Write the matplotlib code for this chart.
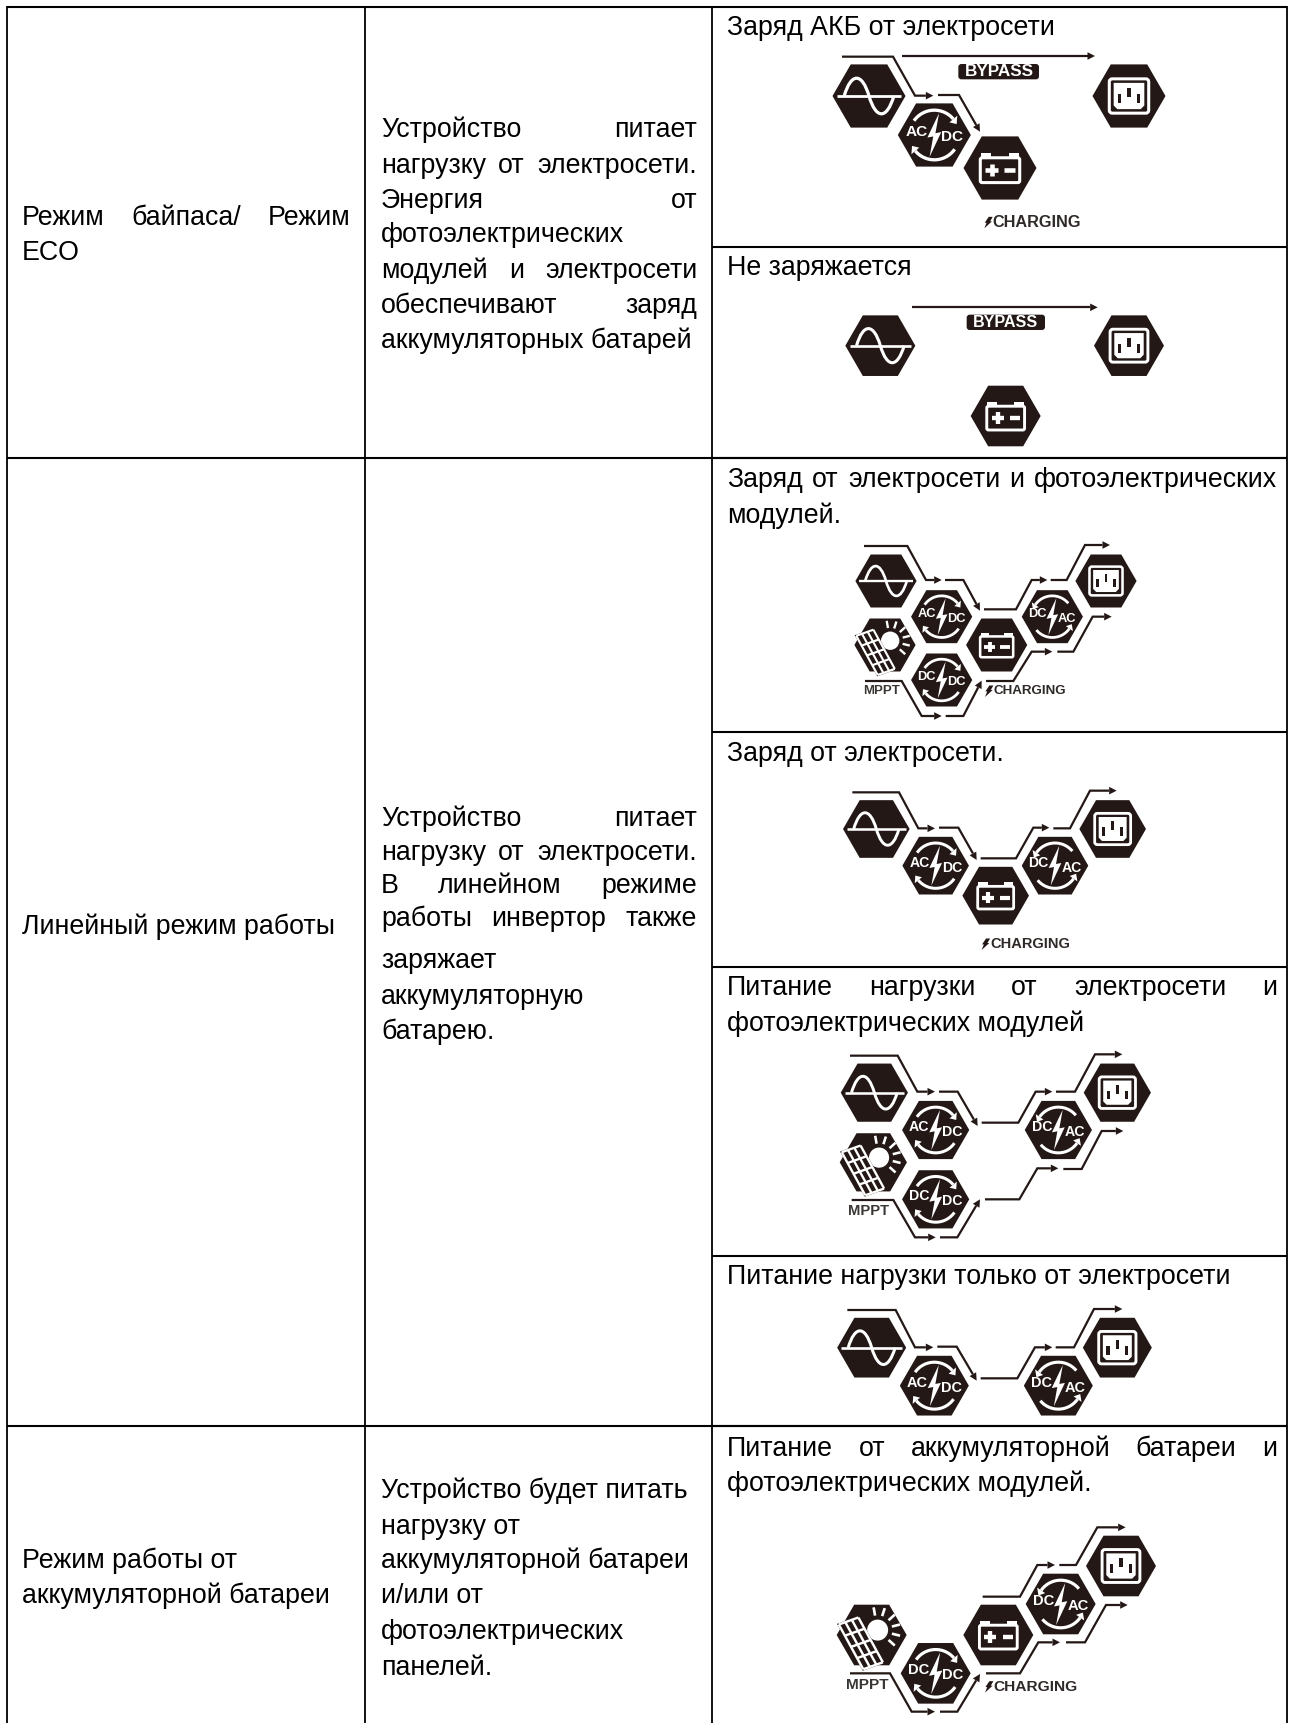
#!/usr/bin/python3

import numpy as np
import matplotlib
matplotlib.use('Agg')
import matplotlib.pyplot as plt
from matplotlib.patches import Polygon, FancyBboxPatch, PathPatch, Circle
from matplotlib.path import Path

# table text
mode_labels = [
    ['Режим байпаса/ Режим', 'ECO'],
    ['Линейный режим работы'],
    ['Режим работы от', 'аккумуляторной батареи'],
]
mode_justify = [[True, False], [False], [False, False]]
descriptions = [
    ['Устройство питает', 'нагрузку от электросети.', 'Энергия от', 'фотоэлектрических',
     'модулей и электросети', 'обеспечивают заряд', 'аккумуляторных батарей'],
    ['Устройство питает', 'нагрузку от электросети.', 'В линейном режиме',
     'работы инвертор также', 'заряжает', 'аккумуляторную', 'батарею.'],
    ['Устройство будет питать', 'нагрузку от', 'аккумуляторной батареи', 'и/или от',
     'фотоэлектрических', 'панелей.'],
]
desc_justify = [
    [True, True, True, False, True, True, False],
    [True, True, True, True, False, False, False],
    [False, False, False, False, False, False],
]
captions = [
    ['Заряд АКБ от электросети'],
    ['Не заряжается'],
    ['Заряд от электросети и фотоэлектрических', 'модулей.'],
    ['Заряд от электросети.'],
    ['Питание нагрузки от электросети и', 'фотоэлектрических модулей'],
    ['Питание нагрузки только от электросети'],
    ['Питание от аккумуляторной батареи и', 'фотоэлектрических модулей.'],
]
caption_justify = [[False], [False], [True, False], [False], [True, False], [False], [True, False]]

# layout, in reference pixels
W, H = 1292, 1723
col_x = [7, 365, 712, 1287]
row_y = [7, 458, 1426]
sub_y = [246.5, 458, 732, 967, 1256, 1426]
table_top = 7
font_px = 26.8
mode_y = [[215, 250], [924], [1558, 1593]]
desc_y = [[127, 163, 198, 232, 268, 303, 338],
          [816, 850, 883, 916, 958, 994, 1029],
          [1488, 1524, 1558, 1593, 1629, 1665]]
caption_y = [[25], [265], [477, 513], [751], [985, 1021], [1274], [1446, 1481]]

INK = '#231815'
plt.rcParams['font.family'] = ['Liberation Sans', 'DejaVu Sans']

fig = plt.figure(figsize=(W / 100, H / 100), dpi=100)
ax = fig.add_axes([0, 0, 1, 1])
ax.set_xlim(0, W)
ax.set_ylim(H, 0)
ax.axis('off')
renderer = fig.canvas.get_renderer()


def text_width(s, size, **kw):
    t = ax.text(0, 0, s, fontsize=size, **kw)
    wd = t.get_window_extent(renderer).width
    t.remove()
    return wd


def put_line(s, x0, x1, y, justify):
    size = font_px * 0.72
    if not justify:
        ax.text(x0, y, s, fontsize=size, va='center_baseline', ha='left', color='black')
        return
    words = s.split()
    widths = [text_width(w, size) for w in words]
    gap = (x1 - x0 - sum(widths)) / (len(words) - 1)
    x = x0
    for w, wd in zip(words, widths):
        ax.text(x, y, w, fontsize=size, va='center_baseline', ha='left', color='black')
        x += wd + gap


def fit_text(s, x0, x1, y, color=INK):
    # bold label squeezed to the width it has in the picture
    wd = text_width(s, 10, fontweight='bold')
    ax.text(x0, y, s, fontsize=10 * (x1 - x0) / wd, fontweight='bold', color=color,
            ha='left', va='center', zorder=6)


def hexagon(cx, cy, w):
    h = w * 0.866
    pts = [(cx - w, cy), (cx - w / 2, cy - h), (cx + w / 2, cy - h),
           (cx + w, cy), (cx + w / 2, cy + h), (cx - w / 2, cy + h)]
    ax.add_patch(Polygon(pts, closed=True, fc=INK, ec='none', zorder=3))


def white_line(xs, ys, lw):
    ax.plot(xs, ys, color='white', lw=lw, zorder=4, solid_capstyle='butt')


def icon_sine(cx, cy, w):
    lw = w * 0.055
    white_line([cx - 0.88 * w, cx + 0.88 * w], [cy, cy], lw)
    a, amp = 0.68 * w, 0.5 * w
    verts = [(cx - a, cy),
             (cx - a * 0.72, cy - amp * 1.3), (cx - a * 0.28, cy - amp * 1.3), (cx, cy),
             (cx + a * 0.28, cy + amp * 1.3), (cx + a * 0.72, cy + amp * 1.3), (cx + a, cy)]
    codes = [Path.MOVETO] + [Path.CURVE4] * 6
    ax.add_patch(PathPatch(Path(verts, codes), fc='none', ec='white', lw=lw * 1.15, zorder=4))


def icon_load(cx, cy, w):
    ax.add_patch(FancyBboxPatch((cx - 0.54 * w, cy - 0.47 * w), 1.08 * w, 0.94 * w,
                                boxstyle=f'round,pad=0,rounding_size={0.08 * w}',
                                fc=INK, ec='white', lw=w * 0.06, zorder=4))
    a, b, c = 0.42 * w, 0.36 * w, 0.1 * w
    socket = [(cx - a, cy - b), (cx + a, cy - b), (cx + a, cy + b - c),
              (cx + a - c, cy + b), (cx - a + c, cy + b), (cx - a, cy + b - c)]
    ax.add_patch(Polygon(socket, closed=True, fc='white', ec='none', zorder=4))
    for dx, dy in [(-0.27, 0.07), (0, -0.1), (0.27, 0.07)]:
        ax.add_patch(Polygon([(cx + (dx - 0.045) * w, cy + (dy - 0.13) * w),
                              (cx + (dx + 0.045) * w, cy + (dy - 0.13) * w),
                              (cx + (dx + 0.045) * w, cy + (dy + 0.13) * w),
                              (cx + (dx - 0.045) * w, cy + (dy + 0.13) * w)],
                             closed=True, fc=INK, ec='none', zorder=5))


def icon_battery(cx, cy, w):
    cy2 = cy + 0.06 * w
    for dx in (-0.38, 0.38):
        ax.add_patch(Polygon([(cx + (dx - 0.14) * w, cy2 - 0.46 * w), (cx + (dx + 0.14) * w, cy2 - 0.46 * w),
                              (cx + (dx + 0.14) * w, cy2 - 0.3 * w), (cx + (dx - 0.14) * w, cy2 - 0.3 * w)],
                             closed=True, fc='white', ec='none', zorder=4))
    ax.add_patch(FancyBboxPatch((cx - 0.54 * w, cy2 - 0.34 * w), 1.08 * w, 0.68 * w,
                                boxstyle=f'round,pad=0,rounding_size={0.05 * w}',
                                fc=INK, ec='white', lw=w * 0.06, zorder=4))
    lw = w * 0.09
    white_line([cx - 0.4 * w, cx - 0.06 * w], [cy2, cy2], lw)
    white_line([cx - 0.23 * w, cx - 0.23 * w], [cy2 - 0.17 * w, cy2 + 0.17 * w], lw)
    white_line([cx + 0.12 * w, cx + 0.42 * w], [cy2, cy2], lw)


def icon_converter(cx, cy, w, left, right, top_right):
    bolt = [(0.13, -0.6), (-0.19, 0.07), (-0.03, 0.04), (-0.13, 0.6), (0.19, -0.08), (0.03, -0.05)]
    ax.add_patch(Polygon([(cx + x * w, cy + y * w) for x, y in bolt], closed=True,
                         fc='white', ec='none', zorder=5))
    px = 0.42 * w * 0.72
    ax.text(cx - 0.49 * w, cy - 0.09 * w, left, fontsize=px, fontweight='bold', color='white',
            ha='center', va='center', zorder=5)
    ax.text(cx + 0.49 * w, cy + 0.06 * w, right, fontsize=px, fontweight='bold', color='white',
            ha='center', va='center', zorder=5)
    r = 0.68 * w
    lw = w * 0.065
    # top and bottom arrow rings; direction flips for DC/AC
    for start, end in [(145, 40), (325, 220)] if top_right else [(40, 145), (220, 325)]:
        ang = np.radians(np.linspace(start, end, 30))
        white_line(cx + r * np.cos(ang), cy - r * np.sin(ang), lw)
        tip = np.radians(end + (-14 if end < start else 14))
        base = np.radians(end)
        tx, ty = cx + r * np.cos(tip), cy - r * np.sin(tip)
        bx, by = cx + r * np.cos(base), cy - r * np.sin(base)
        nx, ny = np.cos(base), -np.sin(base)
        hw = 0.14 * w
        ax.add_patch(Polygon([(tx, ty), (bx + nx * hw, by + ny * hw), (bx - nx * hw, by - ny * hw)],
                             closed=True, fc='white', ec='none', zorder=4))


def icon_solar(cx, cy, w):
    sx, sy = cx + 0.17 * w, cy - 0.14 * w
    ax.add_patch(Circle((sx, sy), 0.3 * w, fc='white', ec='none', zorder=4))
    for deg in (-42, -14, 14, 42, 72, 100):
        a = np.radians(deg)
        white_line([sx + 0.42 * w * np.cos(a), sx + 0.66 * w * np.cos(a)],
                   [sy - 0.42 * w * np.sin(a), sy - 0.66 * w * np.sin(a)], w * 0.055)
    tl = np.array([-0.94, -0.30])
    u = np.array([0.56, -0.2])
    v = np.array([0.7, 1.28])
    corners = [tl, tl + u, tl + u + v, tl + v]
    c0 = np.array([cx, cy])
    ax.add_patch(Polygon([c0 + c * w for c in corners], closed=True, fc=INK, ec=INK,
                         lw=w * 0.05, zorder=4.5))
    # white grid, 3 columns by 4 rows
    for i in range(4):
        p0, p1 = c0 + (tl + u * i / 3) * w, c0 + (tl + u * i / 3 + v) * w
        ax.plot([p0[0], p1[0]], [p0[1], p1[1]], color='white', lw=w * 0.05, zorder=4.6,
                solid_capstyle='butt')
    for j in range(5):
        p0, p1 = c0 + (tl + v * j / 4) * w, c0 + (tl + v * j / 4 + u) * w
        ax.plot([p0[0], p1[0]], [p0[1], p1[1]], color='white', lw=w * 0.05, zorder=4.6,
                solid_capstyle='butt')


def flow(pts):
    xs = [p[0] for p in pts]
    ys = [p[1] for p in pts]
    tip = np.array(pts[-1], dtype=float)
    prev = np.array(pts[-2], dtype=float)
    d = (tip - prev) / np.hypot(*(tip - prev))
    n = np.array([-d[1], d[0]])
    base = tip - d * 7.5
    ax.plot(xs[:-1] + [base[0]], ys[:-1] + [base[1]], color=INK, lw=1.6, zorder=3,
            solid_joinstyle='miter', solid_capstyle='butt')
    ax.add_patch(Polygon([tip, base + n * 3.8, base - n * 3.8], closed=True, fc=INK, ec='none', zorder=3))


def charging(x0, x1, y):
    bw, bh = 8.0, 5.5
    bolt = [(x0 + bw * 0.55, y - bh), (x0 + bw * 1.05, y - bh), (x0 + bw * 0.72, y - 1),
            (x0 + bw * 0.95, y - 1), (x0, y + bh + 0.5), (x0 + bw * 0.28, y + 0.4), (x0 + bw * 0.05, y + 0.4)]
    ax.add_patch(Polygon(bolt, closed=True, fc=INK, ec='none', zorder=5))
    fit_text('CHARGING', x0 + bw + 0.5, x1, y, color='#2f2a28')


def bypass(bx0, bx1, by0, by1, tx0, tx1):
    ax.add_patch(FancyBboxPatch((bx0, by0), bx1 - bx0, by1 - by0,
                                boxstyle='round,pad=0,rounding_size=3', fc=INK, ec='none', zorder=3))
    fit_text('BYPASS', tx0, tx1, (by0 + by1) / 2, color='white')


PANELS = [
    dict(off=(800, 0), w=36.5,
         icons=[('sine', 207, 288), ('acdc', 403, 405), ('batt', 600, 504), ('load', 987, 288)],
         flows=[[(126, 170), (279, 170), (345, 287), (400, 287)],
                [(414, 285), (477, 285), (540, 395)],
                [(306, 168), (885, 168)]],
         bypass=(475, 717, 192, 238, 495, 702), charging=(553, 843, 667), mppt=None),
    dict(off=(800, 280), w=35,
         icons=[('sine', 241, 197), ('load', 987, 197), ('batt', 617, 408)],
         flows=[[(337, 82), (893, 82)]],
         bypass=(500, 735, 104, 150, 520, 715), charging=None, mppt=None),
    dict(off=(800, 520), w=30.6,
         icons=[('sine', 258, 183), ('solar', 255, 375), ('acdc', 425, 290), ('dcdc', 425, 480),
                ('batt', 590, 375), ('dcac', 757, 290), ('load', 918, 183)],
         flows=[[(192, 78), (322, 78), (378, 180), (425, 180)],
                [(435, 180), (490, 180), (540, 272)],
                [(552, 268), (648, 268), (695, 180), (742, 180)],
                [(752, 180), (800, 180), (855, 75), (930, 75)],
                [(195, 483), (305, 483), (365, 588), (425, 588)],
                [(437, 588), (490, 588), (545, 482)],
                [(558, 483), (640, 483), (695, 395), (757, 395)],
                [(772, 395), (820, 395), (878, 290), (935, 290)]],
         bypass=None, charging=(555, 798, 513), mppt=(188, 298, 513)),
    dict(off=(800, 770), w=33.3,
         icons=[('sine', 229, 177), ('acdc', 407, 287), ('batt', 587, 377), ('dcac', 765, 287), ('load', 938, 177)],
         flows=[[(157, 67), (297, 67), (355, 175), (405, 175)],
                [(417, 173), (475, 173), (530, 270)],
                [(542, 265), (648, 265), (700, 173), (748, 173)],
                [(760, 175), (810, 175), (870, 62), (950, 62)]],
         bypass=None, charging=(545, 808, 522), mppt=None),
    dict(off=(800, 1040), w=33.6,
         icons=[('sine', 223, 158), ('solar', 220, 367), ('acdc', 407, 270), ('dcdc', 407, 478),
                ('dcac', 775, 270), ('load', 952, 158)],
         flows=[[(150, 47), (293, 47), (352, 155), (405, 155)],
                [(417, 155), (473, 155), (533, 258)],
                [(545, 248), (655, 248), (707, 155), (757, 155)],
                [(768, 155), (825, 155), (885, 43), (967, 43)],
                [(155, 480), (280, 480), (345, 592), (407, 592)],
                [(420, 592), (472, 592), (540, 478)],
                [(555, 478), (658, 478), (712, 385), (775, 385)],
                [(790, 387), (845, 387), (905, 273), (970, 273)]],
         bypass=None, charging=None, mppt=(145, 267, 512)),
    dict(off=(800, 1290), w=34.5,
         icons=[('sine', 215, 173), ('acdc', 403, 287), ('dcac', 775, 287), ('load', 952, 173)],
         flows=[[(142, 60), (287, 60), (345, 172), (400, 172)],
                [(412, 170), (470, 170), (530, 272)],
                [(542, 265), (652, 265), (705, 172), (757, 172)],
                [(767, 172), (822, 172), (882, 57), (967, 57)]],
         bypass=None, charging=None, mppt=None),
    dict(off=(800, 1480), w=35,
         icons=[('solar', 215, 465), ('dcdc', 407, 580), ('batt', 595, 465), ('dcac', 782, 372), ('load', 963, 258)],
         flows=[[(150, 580), (270, 580), (335, 695), (405, 695)],
                [(420, 695), (472, 695), (540, 582)],
                [(548, 350), (660, 350), (712, 255), (765, 255)],
                [(778, 255), (828, 255), (892, 142), (977, 142)],
                [(558, 580), (660, 580), (715, 487), (780, 487)],
                [(798, 487), (855, 487), (918, 375), (983, 375)]],
         bypass=None, charging=(555, 832, 620), mppt=(138, 265, 615)),
]


def draw_panel(panel):
    ox, oy = panel['off']
    w = panel['w']

    def fx(v):
        return ox + v / 3

    def fy(v):
        return oy + v / 3

    for name, x, y in panel['icons']:
        cx, cy = fx(x), fy(y)
        hexagon(cx, cy, w)
        if name == 'sine':
            icon_sine(cx, cy, w)
        elif name == 'load':
            icon_load(cx, cy, w)
        elif name == 'batt':
            icon_battery(cx, cy, w)
        elif name == 'solar':
            icon_solar(cx, cy, w)
        elif name == 'acdc':
            icon_converter(cx, cy, w, 'AC', 'DC', True)
        elif name == 'dcdc':
            icon_converter(cx, cy, w, 'DC', 'DC', True)
        elif name == 'dcac':
            icon_converter(cx, cy, w, 'DC', 'AC', False)
    for pts in panel['flows']:
        flow([(fx(x), fy(y)) for x, y in pts])
    if panel['bypass']:
        b = panel['bypass']
        bypass(fx(b[0]), fx(b[1]), fy(b[2]), fy(b[3]), fx(b[4]), fx(b[5]))
    if panel['charging']:
        c = panel['charging']
        charging(fx(c[0]), fx(c[1]), fy(c[2]))
    if panel['mppt']:
        m = panel['mppt']
        fit_text('MPPT', fx(m[0]), fx(m[1]), fy(m[2]), color='#3a3633')


# grid lines
def hline(y, x0, x1):
    ax.plot([x0, x1], [y, y], color='black', lw=1.5, solid_capstyle='butt', zorder=2)


def vline(x, y0, y1):
    ax.plot([x, x], [y0, y1], color='black', lw=1.3, solid_capstyle='butt', zorder=2)


for x in col_x:
    vline(x, table_top - 1, H)
hline(table_top, col_x[0], col_x[-1])
for y in row_y[1:]:
    hline(y, col_x[0], col_x[-1])
for y in sub_y:
    hline(y, col_x[2], col_x[-1])

# cell text
for lines, ys, flags in zip(mode_labels, mode_y, mode_justify):
    for s, y, j in zip(lines, ys, flags):
        put_line(s, 22, 351, y, j)
for lines, ys, flags in zip(descriptions, desc_y, desc_justify):
    for s, y, j in zip(lines, ys, flags):
        put_line(s, 381, 697, y, j)
for lines, ys, flags in zip(captions, caption_y, caption_justify):
    for s, y, j in zip(lines, ys, flags):
        put_line(s, 727, 1277, y, j)

for panel in PANELS:
    draw_panel(panel)

fig.savefig('out.png', dpi=100)
